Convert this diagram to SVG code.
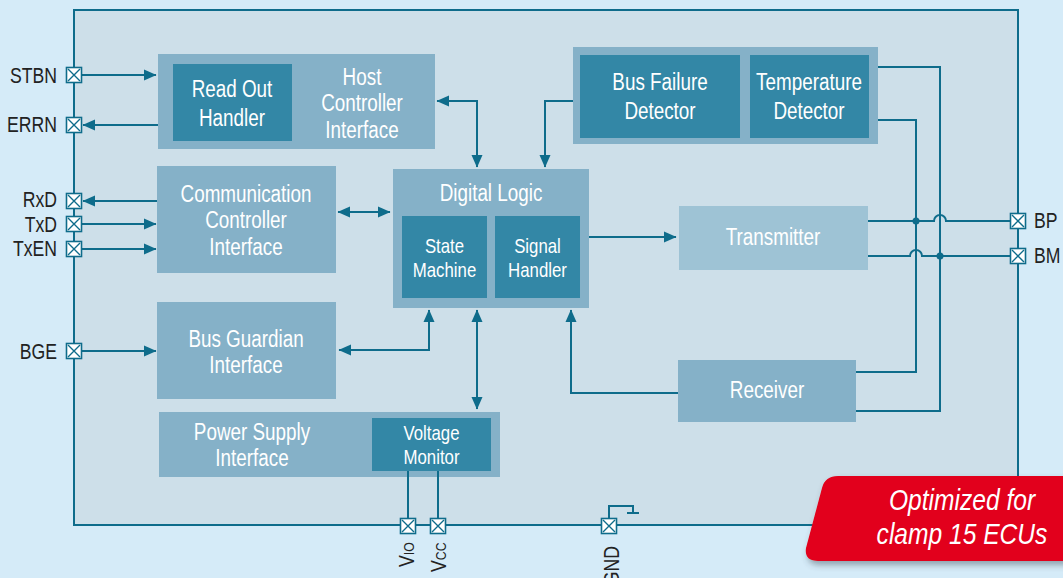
<svg xmlns="http://www.w3.org/2000/svg" width="1063" height="578" viewBox="0 0 1063 578">
<defs>
<style>
.blk{fill:#85b1c8}
.dark{fill:#3387a6}
.tx{fill:#9ec3d5}
.w{fill:#ffffff;font-family:"Liberation Sans",Arial,sans-serif;font-size:23px;text-anchor:middle}
.ws{font-size:20.5px}
.pl{fill:#222222;font-family:"Liberation Sans",Arial,sans-serif;font-size:21.5px}
.bt{fill:#ffffff;font-family:"Liberation Sans",Arial,sans-serif;font-size:30px;font-style:italic;text-anchor:middle}
.wire{fill:none;stroke:#0e6c8b;stroke-width:2}
.arr{marker-end:url(#ah)}
.arr2{marker-start:url(#ah);marker-end:url(#ah)}
</style>
<marker id="ah" markerUnits="userSpaceOnUse" markerWidth="13" markerHeight="12" refX="12" refY="5.5" orient="auto-start-reverse" viewBox="0 0 13 11">
<path d="M0,0 L12.5,5.5 L0,11 Z" fill="#0e6c8b"/>
</marker>
<filter id="sh" x="-10%" y="-20%" width="130%" height="160%">
<feDropShadow dx="2" dy="4" stdDeviation="3" flood-color="#3a4a55" flood-opacity="0.45"/>
</filter>
<g id="pinsym">
<rect x="-7.5" y="-7.5" width="15" height="15" fill="#ffffff" stroke="#0e6c8b" stroke-width="1.6"/>
<path d="M-6,-6 L6,6 M6,-6 L-6,6" stroke="#0e6c8b" stroke-width="1.4"/>
</g>
</defs>

<rect width="1063" height="578" fill="#d5ebf8"/>
<rect id="chip" x="74" y="10" width="944" height="515" fill="#cddfe9" stroke="#0e6c8b" stroke-width="2"/>

<g id="host">
<rect class="blk" x="158" y="54" width="277" height="95"/>
<text class="w" transform="translate(362,85) scale(.82,1)">Host</text>
<text class="w" transform="translate(362,111) scale(.82,1)">Controller</text>
<text class="w" transform="translate(362,137.5) scale(.82,1)">Interface</text>
</g>
<g id="readout">
<rect class="dark" x="173" y="64" width="119" height="77"/>
<text class="w" transform="translate(232,97) scale(.82,1)">Read Out</text>
<text class="w" transform="translate(232,126) scale(.82,1)">Handler</text>
</g>
<g id="comm">
<rect class="blk" x="157" y="166" width="179" height="107"/>
<text class="w" transform="translate(246,201.5) scale(.82,1)">Communication</text>
<text class="w" transform="translate(246,228) scale(.82,1)">Controller</text>
<text class="w" transform="translate(246,255) scale(.82,1)">Interface</text>
</g>
<g id="digital">
<rect class="blk" x="393" y="169" width="196" height="139"/>
<text class="w" transform="translate(491,200.5) scale(.82,1)">Digital Logic</text>
</g>
<g id="state">
<rect class="dark" x="402" y="216" width="85" height="82"/>
<text class="w ws" transform="translate(444.5,252.5) scale(.82,1)">State</text>
<text class="w ws" transform="translate(444.5,276.5) scale(.82,1)">Machine</text>
</g>
<g id="signal">
<rect class="dark" x="495" y="216" width="85" height="82"/>
<text class="w ws" transform="translate(537.5,252.5) scale(.82,1)">Signal</text>
<text class="w ws" transform="translate(537.5,276.5) scale(.82,1)">Handler</text>
</g>
<g id="guardian">
<rect class="blk" x="157" y="302" width="179" height="97"/>
<text class="w" transform="translate(246,346.5) scale(.82,1)">Bus Guardian</text>
<text class="w" transform="translate(246,372.5) scale(.82,1)">Interface</text>
</g>
<g id="power">
<rect class="blk" x="159" y="412" width="341" height="65"/>
<text class="w" transform="translate(252,440) scale(.82,1)">Power Supply</text>
<text class="w" transform="translate(252,465.5) scale(.82,1)">Interface</text>
</g>
<g id="voltage">
<rect class="dark" x="372" y="418" width="119" height="53"/>
<text class="w ws" transform="translate(431.5,439.5) scale(.82,1)">Voltage</text>
<text class="w ws" transform="translate(431.5,463.5) scale(.82,1)">Monitor</text>
</g>
<g id="detectors">
<rect class="blk" x="573" y="47" width="305" height="97"/>
</g>
<g id="busfailure">
<rect class="dark" x="580" y="55" width="160" height="83"/>
<text class="w" transform="translate(660,90) scale(.82,1)">Bus Failure</text>
<text class="w" transform="translate(660,119) scale(.82,1)">Detector</text>
</g>
<g id="temperature">
<rect class="dark" x="750" y="55" width="119" height="83"/>
<text class="w" transform="translate(809,90) scale(.82,1)">Temperature</text>
<text class="w" transform="translate(809,119) scale(.82,1)">Detector</text>
</g>
<g id="transmitter">
<rect class="tx" x="679" y="206" width="189" height="64"/>
<text class="w" transform="translate(773,244.5) scale(.82,1)">Transmitter</text>
</g>
<g id="receiver">
<rect class="blk" x="678" y="360" width="178" height="62"/>
<text class="w" transform="translate(767,397.5) scale(.82,1)">Receiver</text>
</g>

<g id="connectors">
<path class="wire arr" d="M82,75 H156"/>
<path class="wire arr" d="M158,125 H83"/>
<path class="wire arr" d="M157,201 H83"/>
<path class="wire arr" d="M82,224 H156"/>
<path class="wire arr" d="M82,249 H156"/>
<path class="wire arr" d="M82,351 H156"/>
<path class="wire arr2" d="M437,101 H477 V167"/>
<path class="wire arr" d="M573,101 H545 V167"/>
<path class="wire arr2" d="M338,212 H390"/>
<path class="wire arr" d="M589,237 H676"/>
<path class="wire arr2" d="M339,350 H429 V310"/>
<path class="wire arr2" d="M477,310 V409"/>
<path class="wire arr" d="M678,393 H571 V310"/>
<path class="wire" d="M878,67 H940 V411 H856"/>
<path class="wire" d="M878,120 H916 V372 H856"/>
<path class="wire" d="M868,221 H934 A6,6 0 0 1 946,221 H1011"/>
<path class="wire" d="M868,256 H910 A6,6 0 0 1 922,256 H1011"/>
<circle cx="916" cy="221" r="3.5" fill="#0e6c8b"/>
<circle cx="940" cy="256" r="3.5" fill="#0e6c8b"/>
<path class="wire" d="M408,471 V518 M438,471 V518"/>
<path class="wire" d="M609,518 V506 H633 V513 M627,513 H639"/>
</g>

<g id="pins">
<use href="#pinsym" x="74" y="75"/>
<use href="#pinsym" x="74" y="125"/>
<use href="#pinsym" x="74" y="201"/>
<use href="#pinsym" x="74" y="224"/>
<use href="#pinsym" x="74" y="249"/>
<use href="#pinsym" x="74" y="351"/>
<use href="#pinsym" x="1018" y="221"/>
<use href="#pinsym" x="1018" y="256"/>
<use href="#pinsym" x="408" y="526"/>
<use href="#pinsym" x="438" y="526"/>
<use href="#pinsym" x="609" y="526"/>
</g>

<g id="pinlabels">
<text class="pl" transform="translate(57,83) scale(.82,1)" text-anchor="end">STBN</text>
<text class="pl" transform="translate(57,132) scale(.82,1)" text-anchor="end">ERRN</text>
<text class="pl" transform="translate(57,207) scale(.82,1)" text-anchor="end">RxD</text>
<text class="pl" transform="translate(57,232) scale(.82,1)" text-anchor="end">TxD</text>
<text class="pl" transform="translate(57,256) scale(.82,1)" text-anchor="end">TxEN</text>
<text class="pl" transform="translate(57,358.5) scale(.82,1)" text-anchor="end">BGE</text>
<text class="pl" transform="translate(1034,228) scale(.82,1)">BP</text>
<text class="pl" transform="translate(1034,263) scale(.82,1)">BM</text>
<text class="pl" transform="translate(414,567) rotate(-90) scale(.82,1)">V<tspan font-size="15">IO</tspan></text>
<text class="pl" transform="translate(445.5,572) rotate(-90) scale(.82,1)">V<tspan font-size="15">CC</tspan></text>
<text class="pl" transform="translate(619,546) rotate(-90) scale(.82,1)" text-anchor="end">GND</text>
</g>

<g id="badge">
<path d="M838,476 H1075 V561 H818 Q804,561 806,548 L822,488 Q825,476 838,476 Z" fill="#e2001a" filter="url(#sh)"/>
<text class="bt" transform="translate(962,510) scale(.82,1)">Optimized for</text>
<text class="bt" transform="translate(962,544) scale(.82,1)">clamp 15 ECUs</text>
</g>
</svg>
